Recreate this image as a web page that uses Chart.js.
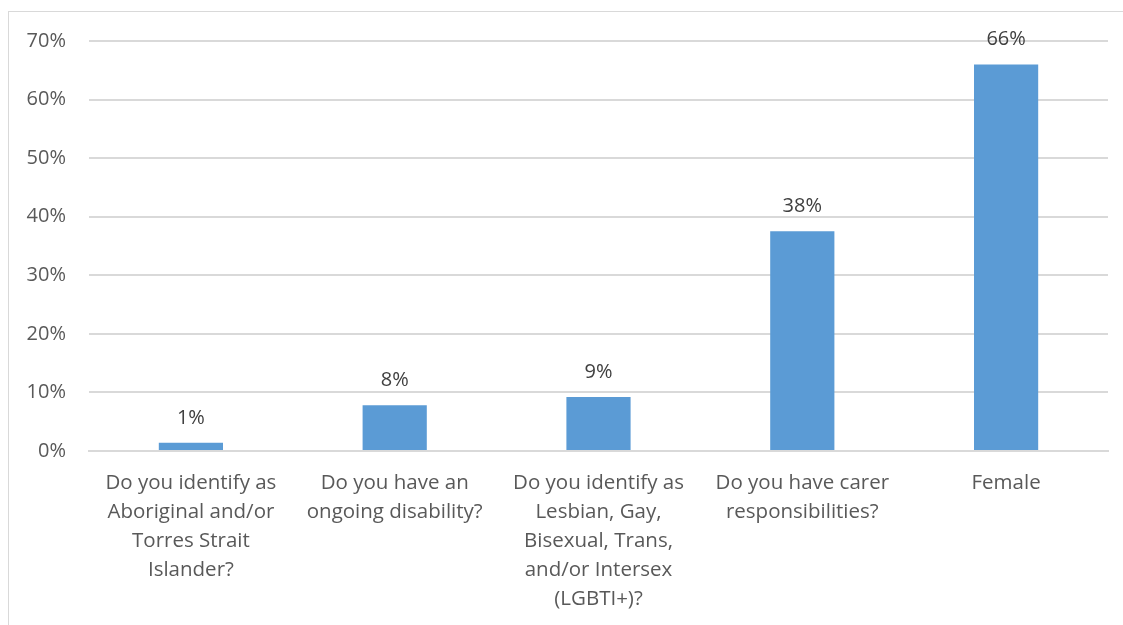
<!DOCTYPE html>
<html>
<head>
<meta charset="utf-8">
<script src="https://cdn.jsdelivr.net/npm/chart.js@4/dist/chart.umd.min.js"></script>
<style>
  html, body { margin: 0; padding: 0; background: #fff; }
  #wrap { position: relative; width: 1123px; height: 625px; overflow: hidden; }
  #frame { position: absolute; left: 8px; top: 11px; width: 1200px; height: 700px; border: 1px solid #d9d9d9; box-sizing: border-box; }
  canvas { position: absolute; left: 0; top: 0; }
</style>
</head>
<body>
<div id="wrap">
  <div id="frame"></div>
  <canvas id="chart" width="1123" height="625"></canvas>
</div>
<script>
// Données
const categories = [
  ['Do you identify as', 'Aboriginal and/or', 'Torres Strait', 'Islander?'],
  ['Do you have an', 'ongoing disability?'],
  ['Do you identify as', 'Lesbian, Gay,', 'Bisexual, Trans,', 'and/or Intersex', '(LGBTI+)?'],
  ['Do you have carer', 'responsibilities?'],
  ['Female']
];
const values = [1.4, 7.8, 9.2, 37.5, 66.0];
const valueLabels = ['1%', '8%', '9%', '38%', '66%'];

const FONT = '"Open Sans", sans-serif';

// Étiquettes de valeur au-dessus des barres
const barLabels = {
  id: 'barLabels',
  afterDatasetsDraw(chart) {
    const ctx = chart.ctx;
    const meta = chart.getDatasetMeta(0);
    ctx.save();
    ctx.font = `20px ${FONT}`;
    ctx.fillStyle = '#404040';
    ctx.textAlign = 'center';
    ctx.textBaseline = 'middle';
    meta.data.forEach((bar, i) => {
      ctx.fillText(valueLabels[i], bar.x, bar.y - 25);
    });
    ctx.restore();
  }
};

new Chart(document.getElementById('chart'), {
  type: 'bar',
  data: {
    labels: categories,
    datasets: [{
      data: values,
      backgroundColor: '#5b9bd5',
      borderWidth: 0,
      categoryPercentage: 1,
      barPercentage: 0.315
    }]
  },
  options: {
    responsive: false,
    animation: false,
    layout: { padding: { top: 41, right: 15, left: 0, bottom: 0 } },
    plugins: { legend: { display: false }, tooltip: { enabled: false } },
    scales: {
      x: {
        grid: { display: false, drawTicks: false },
        border: { display: true, color: '#d9d9d9', width: 2 },
        ticks: {
          color: '#595959',
          font: { family: FONT, size: 20.5, lineHeight: 1.415 },
          padding: 18,
          maxRotation: 0,
          autoSkip: false
        },
        afterFit: (scale) => { scale.height = 174; }
      },
      y: {
        min: 0,
        max: 70,
        grid: { color: '#d9d9d9', lineWidth: 2, drawTicks: false },
        border: { display: false },
        ticks: {
          stepSize: 10,
          color: '#595959',
          font: { family: FONT, size: 20 },
          padding: 23,
          callback: (v) => `${v}%`
        },
        afterFit: (scale) => { scale.width = 89; }
      }
    }
  },
  plugins: [barLabels]
});
</script>
</body>
</html>
